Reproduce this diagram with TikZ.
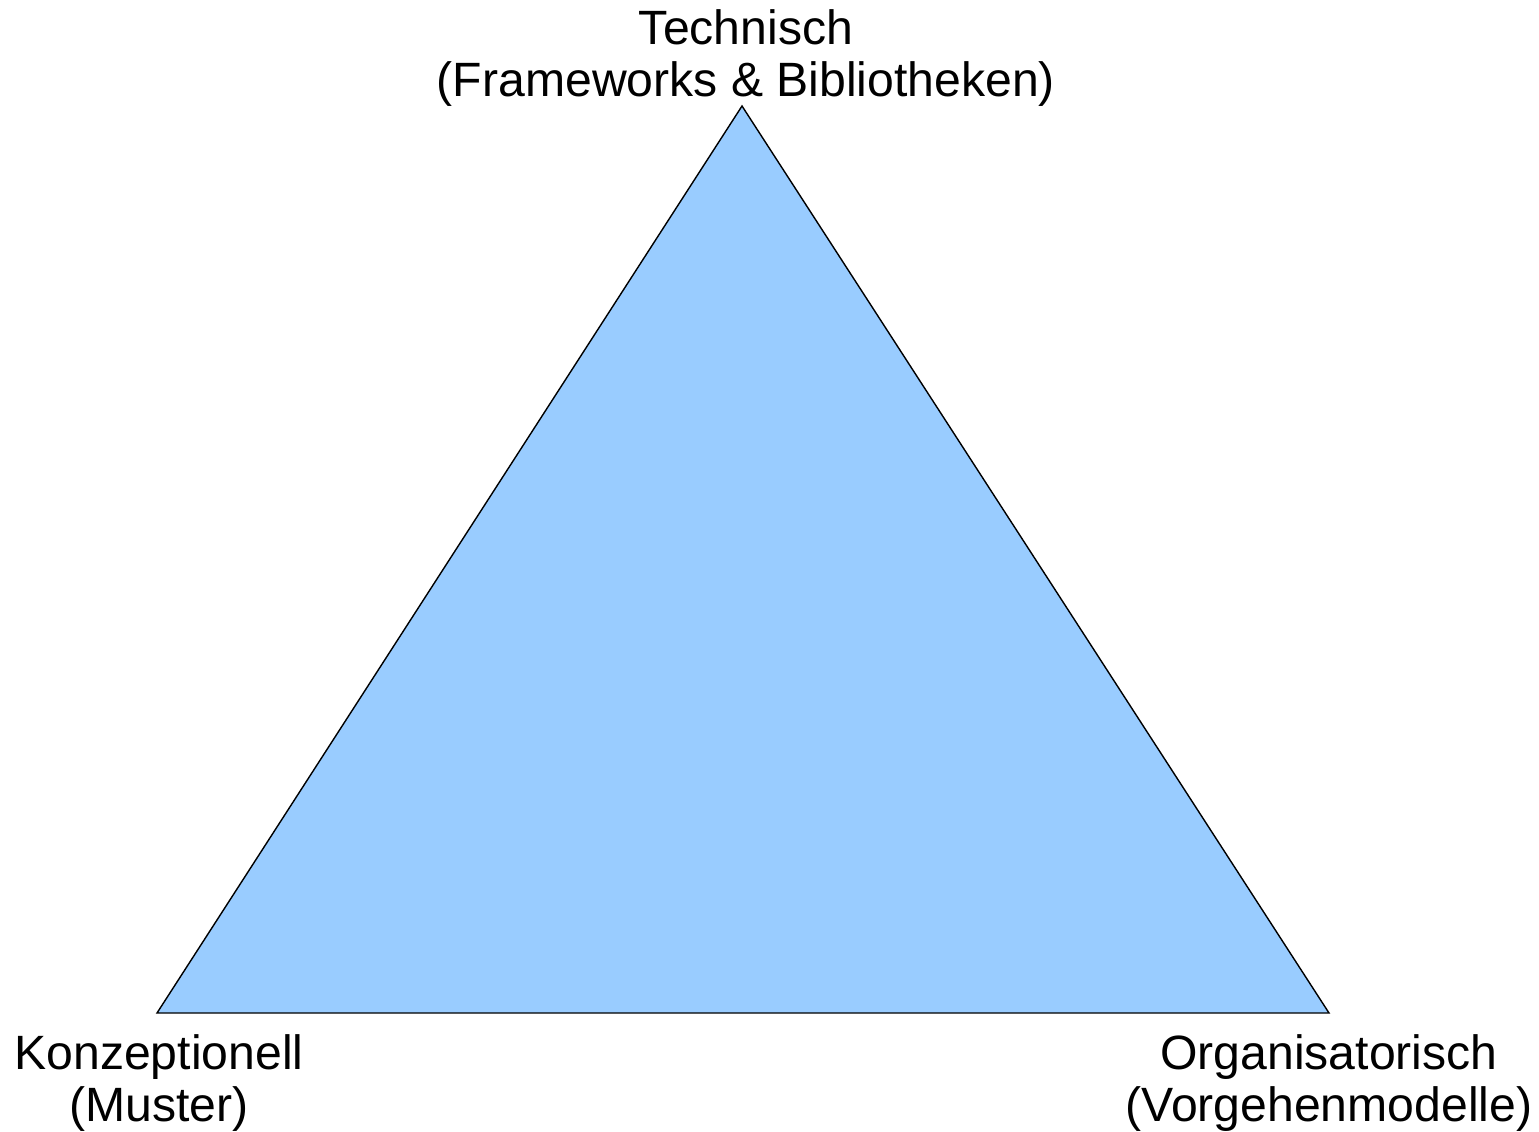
\documentclass[tikz,border=0pt]{standalone}
\usepackage{fontspec}
\setmainfont{Liberation Sans}
\definecolor{triblue}{HTML}{99CCFF}
\tikzset{lbl/.style={align=center,inner sep=0pt,font=\fontsize{13.7}{14.8}\selectfont}}

\begin{document}
\begin{tikzpicture}
        \useasboundingbox (0,0) rectangle (15.39,-11.31);
        \coordinate (apex) at (7.42,-1.06);
        \coordinate (konz) at (1.57,-10.13);
        \coordinate (orga) at (13.29,-10.13);
        \filldraw [fill=triblue, draw=black, line width=0.4pt] (apex)--(konz)--(orga)--cycle;
        \node[lbl] (technisch) at (7.46,-0.58) {Technisch\\(Frameworks \& Bibliotheken)};
        \node[lbl] (konzeptionell) at (1.59,-10.83) {Konzeptionell\\(Muster)};
        \node[lbl] (organisatorisch) at (13.29,-10.83) {Organisatorisch\\(Vorgehenmodelle)};
      \end{tikzpicture}
\end{document}
